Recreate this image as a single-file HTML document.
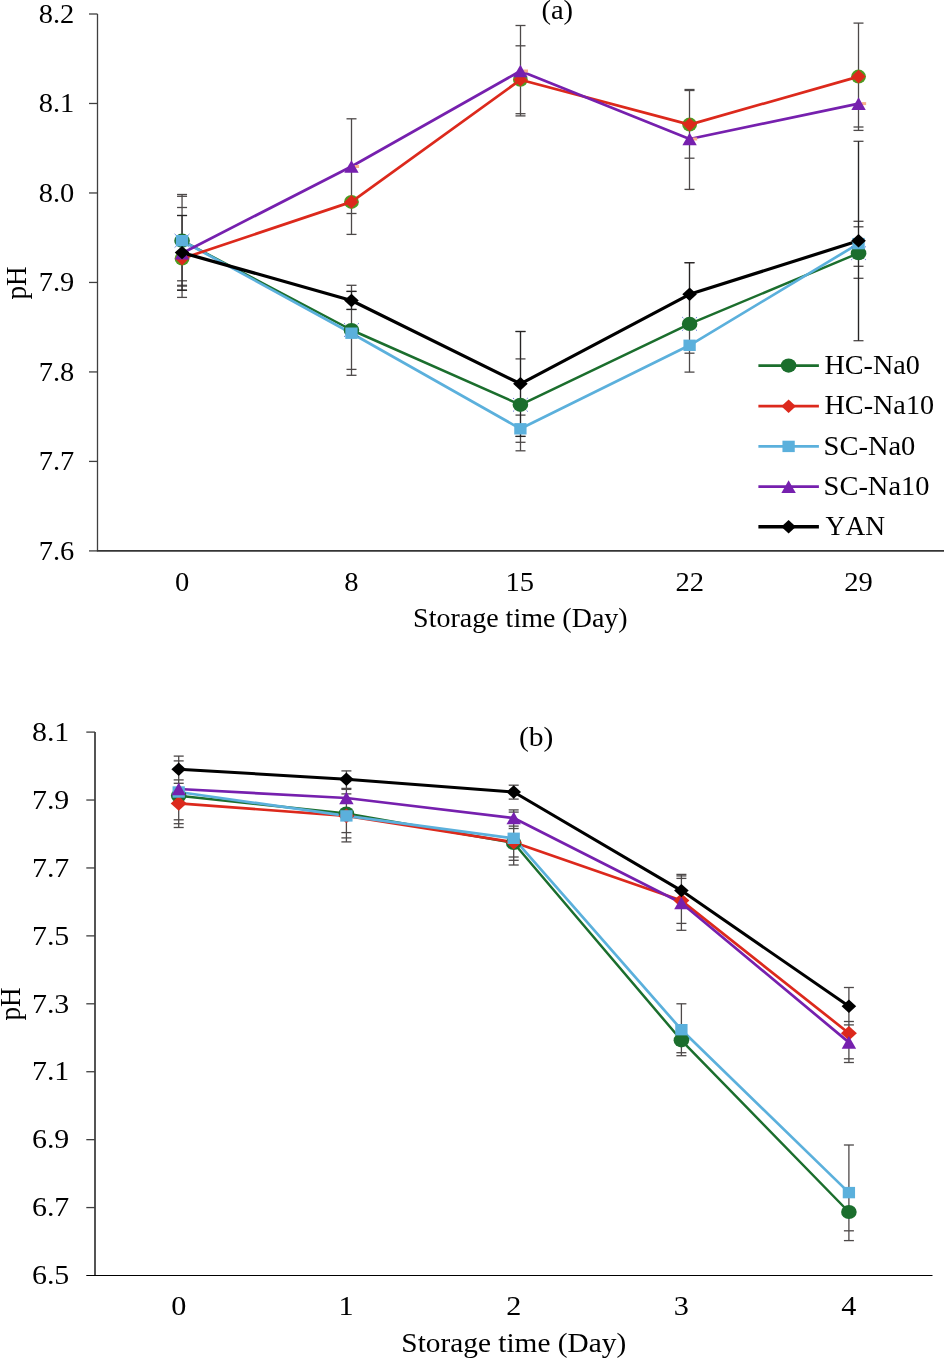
<!DOCTYPE html>
<html><head><meta charset="utf-8"><title>pH chart</title>
<style>
html,body{margin:0;padding:0;background:#fff;}
body{width:944px;height:1358px;overflow:hidden;}
svg{display:block;font-family:"Liberation Serif", serif;will-change:transform;}
text{fill:#000;font-kerning:none;font-feature-settings:"kern" 0;}
</style></head>
<body>
<svg width="944" height="1358" viewBox="0 0 944 1358">
<rect width="944" height="1358" fill="#fff"/>
<line x1="97.5" y1="14.0" x2="97.5" y2="550.9" stroke="#3f3f3f" stroke-width="1.3"/>
<line x1="89" y1="14.0" x2="97.5" y2="14.0" stroke="#3f3f3f" stroke-width="1.3"/>
<line x1="89" y1="103.48333333333333" x2="97.5" y2="103.48333333333333" stroke="#3f3f3f" stroke-width="1.3"/>
<line x1="89" y1="192.96666666666667" x2="97.5" y2="192.96666666666667" stroke="#3f3f3f" stroke-width="1.3"/>
<line x1="89" y1="282.45" x2="97.5" y2="282.45" stroke="#3f3f3f" stroke-width="1.3"/>
<line x1="89" y1="371.93333333333334" x2="97.5" y2="371.93333333333334" stroke="#3f3f3f" stroke-width="1.3"/>
<line x1="89" y1="461.4166666666667" x2="97.5" y2="461.4166666666667" stroke="#3f3f3f" stroke-width="1.3"/>
<line x1="89" y1="550.9" x2="97.5" y2="550.9" stroke="#3f3f3f" stroke-width="1.3"/>
<line x1="96.9" y1="550.9" x2="944" y2="550.9" stroke="#353535" stroke-width="1.6"/>
<text x="38.8" y="22.90" font-size="27.2" textLength="35.53" lengthAdjust="spacingAndGlyphs">8.2</text>
<text x="38.8" y="112.38" font-size="27.2" textLength="35.53" lengthAdjust="spacingAndGlyphs">8.1</text>
<text x="38.8" y="201.87" font-size="27.2" textLength="35.53" lengthAdjust="spacingAndGlyphs">8.0</text>
<text x="38.8" y="291.35" font-size="27.2" textLength="35.53" lengthAdjust="spacingAndGlyphs">7.9</text>
<text x="38.8" y="380.83" font-size="27.2" textLength="35.53" lengthAdjust="spacingAndGlyphs">7.8</text>
<text x="38.8" y="470.32" font-size="27.2" textLength="35.53" lengthAdjust="spacingAndGlyphs">7.7</text>
<text x="38.8" y="559.80" font-size="27.2" textLength="35.53" lengthAdjust="spacingAndGlyphs">7.6</text>
<text x="174.91" y="590.90" font-size="27.2" textLength="14.28" lengthAdjust="spacingAndGlyphs">0</text>
<text x="344.31" y="590.90" font-size="27.2" textLength="14.28" lengthAdjust="spacingAndGlyphs">8</text>
<text x="505.42" y="590.90" font-size="27.2" textLength="28.56" lengthAdjust="spacingAndGlyphs">15</text>
<text x="675.48" y="590.90" font-size="27.2" textLength="28.56" lengthAdjust="spacingAndGlyphs">22</text>
<text x="844.23" y="590.90" font-size="27.2" textLength="28.56" lengthAdjust="spacingAndGlyphs">29</text>
<text x="413.13" y="627.30" font-size="27.2" textLength="214.50" lengthAdjust="spacingAndGlyphs">Storage time (Day)</text>
<text x="0" y="0" font-size="27.2" text-anchor="middle" transform="translate(25.6,283.0) scale(1.045,1) rotate(-90)">pH</text>
<text x="541.44" y="18.50" font-size="27.2" textLength="31.71" lengthAdjust="spacingAndGlyphs">(a)</text>
<line x1="182.05" y1="194.5" x2="182.05" y2="297.4" stroke="#4d4949" stroke-width="1.3"/>
<line x1="177.05" y1="194.5" x2="187.05" y2="194.5" stroke="#4d4949" stroke-width="1.3"/>
<line x1="177.05" y1="196.3" x2="187.05" y2="196.3" stroke="#4d4949" stroke-width="1.3"/>
<line x1="177.05" y1="207.5" x2="187.05" y2="207.5" stroke="#4d4949" stroke-width="1.3"/>
<line x1="177.05" y1="215.5" x2="187.05" y2="215.5" stroke="#4d4949" stroke-width="1.3"/>
<line x1="177.05" y1="280.8" x2="187.05" y2="280.8" stroke="#4d4949" stroke-width="1.3"/>
<line x1="177.05" y1="285.3" x2="187.05" y2="285.3" stroke="#4d4949" stroke-width="1.3"/>
<line x1="177.05" y1="286.1" x2="187.05" y2="286.1" stroke="#4d4949" stroke-width="1.3"/>
<line x1="177.05" y1="290.1" x2="187.05" y2="290.1" stroke="#4d4949" stroke-width="1.3"/>
<line x1="177.05" y1="297.4" x2="187.05" y2="297.4" stroke="#4d4949" stroke-width="1.3"/>
<line x1="351.5" y1="118.8" x2="351.5" y2="234.4" stroke="#4d4949" stroke-width="1.3"/>
<line x1="351.5" y1="285.3" x2="351.5" y2="375.3" stroke="#4d4949" stroke-width="1.3"/>
<line x1="346.5" y1="118.8" x2="356.5" y2="118.8" stroke="#4d4949" stroke-width="1.3"/>
<line x1="346.5" y1="213.5" x2="356.5" y2="213.5" stroke="#4d4949" stroke-width="1.3"/>
<line x1="346.5" y1="234.4" x2="356.5" y2="234.4" stroke="#4d4949" stroke-width="1.3"/>
<line x1="346.5" y1="285.3" x2="356.5" y2="285.3" stroke="#4d4949" stroke-width="1.3"/>
<line x1="346.5" y1="291.3" x2="356.5" y2="291.3" stroke="#4d4949" stroke-width="1.3"/>
<line x1="346.5" y1="309.5" x2="356.5" y2="309.5" stroke="#4d4949" stroke-width="1.3"/>
<line x1="346.5" y1="369.4" x2="356.5" y2="369.4" stroke="#4d4949" stroke-width="1.3"/>
<line x1="346.5" y1="375.3" x2="356.5" y2="375.3" stroke="#4d4949" stroke-width="1.3"/>
<line x1="520.5" y1="25.5" x2="520.5" y2="115.9" stroke="#4d4949" stroke-width="1.3"/>
<line x1="520.5" y1="331.5" x2="520.5" y2="450.8" stroke="#4d4949" stroke-width="1.3"/>
<line x1="515.5" y1="25.5" x2="525.5" y2="25.5" stroke="#4d4949" stroke-width="1.3"/>
<line x1="515.5" y1="45.8" x2="525.5" y2="45.8" stroke="#4d4949" stroke-width="1.3"/>
<line x1="515.5" y1="113.7" x2="525.5" y2="113.7" stroke="#4d4949" stroke-width="1.3"/>
<line x1="515.5" y1="115.9" x2="525.5" y2="115.9" stroke="#4d4949" stroke-width="1.3"/>
<line x1="515.5" y1="331.5" x2="525.5" y2="331.5" stroke="#4d4949" stroke-width="1.3"/>
<line x1="515.5" y1="358.9" x2="525.5" y2="358.9" stroke="#4d4949" stroke-width="1.3"/>
<line x1="515.5" y1="415.1" x2="525.5" y2="415.1" stroke="#4d4949" stroke-width="1.3"/>
<line x1="515.5" y1="436.4" x2="525.5" y2="436.4" stroke="#4d4949" stroke-width="1.3"/>
<line x1="515.5" y1="442.3" x2="525.5" y2="442.3" stroke="#4d4949" stroke-width="1.3"/>
<line x1="515.5" y1="450.8" x2="525.5" y2="450.8" stroke="#4d4949" stroke-width="1.3"/>
<line x1="689.5" y1="90" x2="689.5" y2="189.4" stroke="#4d4949" stroke-width="1.3"/>
<line x1="689.5" y1="262.7" x2="689.5" y2="372.1" stroke="#4d4949" stroke-width="1.3"/>
<line x1="684.5" y1="89.5" x2="694.5" y2="89.5" stroke="#4d4949" stroke-width="1.3"/>
<line x1="684.5" y1="90.5" x2="694.5" y2="90.5" stroke="#4d4949" stroke-width="1.3"/>
<line x1="684.5" y1="158.2" x2="694.5" y2="158.2" stroke="#4d4949" stroke-width="1.3"/>
<line x1="684.5" y1="189.4" x2="694.5" y2="189.4" stroke="#4d4949" stroke-width="1.3"/>
<line x1="684.5" y1="262.7" x2="694.5" y2="262.7" stroke="#4d4949" stroke-width="1.3"/>
<line x1="684.5" y1="353.2" x2="694.5" y2="353.2" stroke="#4d4949" stroke-width="1.3"/>
<line x1="684.5" y1="372.1" x2="694.5" y2="372.1" stroke="#4d4949" stroke-width="1.3"/>
<line x1="858.5" y1="23.1" x2="858.5" y2="130.4" stroke="#4d4949" stroke-width="1.3"/>
<line x1="858.5" y1="141.3" x2="858.5" y2="340.7" stroke="#4d4949" stroke-width="1.3"/>
<line x1="853.5" y1="23.1" x2="863.5" y2="23.1" stroke="#4d4949" stroke-width="1.3"/>
<line x1="853.5" y1="127" x2="863.5" y2="127" stroke="#4d4949" stroke-width="1.3"/>
<line x1="853.5" y1="130.4" x2="863.5" y2="130.4" stroke="#4d4949" stroke-width="1.3"/>
<line x1="853.5" y1="141.3" x2="863.5" y2="141.3" stroke="#4d4949" stroke-width="1.3"/>
<line x1="853.5" y1="221.3" x2="863.5" y2="221.3" stroke="#4d4949" stroke-width="1.3"/>
<line x1="853.5" y1="226.8" x2="863.5" y2="226.8" stroke="#4d4949" stroke-width="1.3"/>
<line x1="853.5" y1="266.3" x2="863.5" y2="266.3" stroke="#4d4949" stroke-width="1.3"/>
<line x1="853.5" y1="278.3" x2="863.5" y2="278.3" stroke="#4d4949" stroke-width="1.3"/>
<line x1="853.5" y1="340.7" x2="863.5" y2="340.7" stroke="#4d4949" stroke-width="1.3"/>
<line x1="182.05" y1="215.5" x2="182.05" y2="290.3" stroke="#262424" stroke-width="1.15"/>
<line x1="177.05" y1="215.5" x2="187.05" y2="215.5" stroke="#262424" stroke-width="1.15"/>
<line x1="177.05" y1="290.3" x2="187.05" y2="290.3" stroke="#262424" stroke-width="1.15"/>
<line x1="351.5" y1="291.5" x2="351.5" y2="309.4" stroke="#262424" stroke-width="1.15"/>
<line x1="346.5" y1="291.5" x2="356.5" y2="291.5" stroke="#262424" stroke-width="1.15"/>
<line x1="346.5" y1="309.4" x2="356.5" y2="309.4" stroke="#262424" stroke-width="1.15"/>
<line x1="520.5" y1="331.5" x2="520.5" y2="436.4" stroke="#262424" stroke-width="1.15"/>
<line x1="515.5" y1="331.5" x2="525.5" y2="331.5" stroke="#262424" stroke-width="1.15"/>
<line x1="515.5" y1="436.4" x2="525.5" y2="436.4" stroke="#262424" stroke-width="1.15"/>
<line x1="689.5" y1="262.7" x2="689.5" y2="325.9" stroke="#262424" stroke-width="1.15"/>
<line x1="684.5" y1="262.7" x2="694.5" y2="262.7" stroke="#262424" stroke-width="1.15"/>
<line x1="858.5" y1="141.3" x2="858.5" y2="340.7" stroke="#262424" stroke-width="1.15"/>
<ellipse cx="182.05" cy="258.6" rx="7.4" ry="7.0" fill="#4f9b22"/>
<ellipse cx="351.45" cy="201.9" rx="7.4" ry="7.0" fill="#4f9b22"/>
<ellipse cx="520.4" cy="79.8" rx="7.4" ry="7.0" fill="#4f9b22"/>
<ellipse cx="689.6" cy="124.6" rx="7.4" ry="7.0" fill="#4f9b22"/>
<ellipse cx="858.55" cy="76.6" rx="7.4" ry="7.0" fill="#4f9b22"/>
<polyline points="182.05,240.7 351.45,330.0 520.4,404.8 689.6,323.9 858.55,253.2" fill="none" stroke="#1b6e2d" stroke-width="2.5" stroke-linejoin="round" stroke-linecap="butt"/>
<polyline points="182.05,240.7 351.45,333.2 520.4,428.8 689.6,345.3 858.55,243.6" fill="none" stroke="#5bb0dc" stroke-width="2.7" stroke-linejoin="round" stroke-linecap="butt"/>
<polyline points="182.05,258.6 351.45,201.9 520.4,79.8 689.6,124.6 858.55,76.6" fill="none" stroke="#dc291c" stroke-width="2.7" stroke-linejoin="round" stroke-linecap="butt"/>
<polyline points="182.05,253.2 351.45,166.5 520.4,71.0 689.6,139.0 858.55,103.6" fill="none" stroke="#7620ae" stroke-width="2.7" stroke-linejoin="round" stroke-linecap="butt"/>
<polyline points="182.05,252.6 351.45,300.5 520.4,383.8 689.6,294.3 858.55,240.8" fill="none" stroke="#000000" stroke-width="3.2" stroke-linejoin="round" stroke-linecap="butt"/>
<ellipse cx="182.05" cy="240.7" rx="7.8" ry="7.1" fill="#1b6e2d"/>
<ellipse cx="351.45" cy="330.0" rx="7.8" ry="7.1" fill="#1b6e2d"/>
<ellipse cx="520.4" cy="404.8" rx="7.8" ry="7.1" fill="#1b6e2d"/>
<ellipse cx="689.6" cy="323.9" rx="7.8" ry="7.1" fill="#1b6e2d"/>
<ellipse cx="858.55" cy="253.2" rx="7.8" ry="7.1" fill="#1b6e2d"/>
<polygon points="182.05,251.8 189.15,258.6 182.05,265.40000000000003 174.95000000000002,258.6" fill="#dc291c"/>
<polygon points="351.45,195.1 358.55,201.9 351.45,208.70000000000002 344.34999999999997,201.9" fill="#dc291c"/>
<polygon points="520.4,73.0 527.5,79.8 520.4,86.6 513.3,79.8" fill="#dc291c"/>
<polygon points="689.6,117.8 696.7,124.6 689.6,131.4 682.5,124.6" fill="#dc291c"/>
<polygon points="858.55,69.8 865.65,76.6 858.55,83.39999999999999 851.4499999999999,76.6" fill="#dc291c"/>
<rect x="175.9" y="235.0" width="12.3" height="11.4" fill="#5bb0dc"/>
<rect x="345.3" y="327.5" width="12.3" height="11.4" fill="#5bb0dc"/>
<rect x="514.25" y="423.1" width="12.3" height="11.4" fill="#5bb0dc"/>
<rect x="683.45" y="339.6" width="12.3" height="11.4" fill="#5bb0dc"/>
<rect x="852.4" y="237.9" width="12.3" height="11.4" fill="#5bb0dc"/>
<rect x="354.45" y="165.00" width="4.6" height="3.0" fill="#f9b08a"/>
<rect x="523.40" y="69.50" width="4.6" height="3.0" fill="#f9b08a"/>
<rect x="692.60" y="137.50" width="4.6" height="3.0" fill="#f9b08a"/>
<rect x="861.55" y="102.10" width="4.6" height="3.0" fill="#f9b08a"/>
<polygon points="182.05,246.89999999999998 189.25,259.5 174.85000000000002,259.5" fill="#7620ae"/>
<polygon points="351.45,160.2 358.65,172.8 344.25,172.8" fill="#7620ae"/>
<polygon points="520.4,64.7 527.6,77.3 513.1999999999999,77.3" fill="#7620ae"/>
<polygon points="689.6,132.7 696.8000000000001,145.3 682.4,145.3" fill="#7620ae"/>
<polygon points="858.55,97.3 865.75,109.89999999999999 851.3499999999999,109.89999999999999" fill="#7620ae"/>
<polygon points="182.05,245.9 189.35000000000002,252.6 182.05,259.3 174.75,252.6" fill="#000000"/>
<polygon points="351.45,293.8 358.75,300.5 351.45,307.2 344.15,300.5" fill="#000000"/>
<polygon points="520.4,377.1 527.6999999999999,383.8 520.4,390.5 513.1,383.8" fill="#000000"/>
<polygon points="689.6,287.6 696.9,294.3 689.6,301.0 682.3000000000001,294.3" fill="#000000"/>
<polygon points="858.55,234.10000000000002 865.8499999999999,240.8 858.55,247.5 851.25,240.8" fill="#000000"/>
<line x1="175.85" y1="235.00" x2="174.65" y2="233.90" stroke="#4a5fd2" stroke-width="1.0" stroke-opacity="0.85"/>
<line x1="175.85" y1="246.40" x2="174.65" y2="247.50" stroke="#4a5fd2" stroke-width="1.0" stroke-opacity="0.85"/>
<line x1="188.25" y1="235.00" x2="189.45" y2="233.90" stroke="#4a5fd2" stroke-width="1.0" stroke-opacity="0.85"/>
<line x1="188.25" y1="246.40" x2="189.45" y2="247.50" stroke="#4a5fd2" stroke-width="1.0" stroke-opacity="0.85"/>
<line x1="345.25" y1="324.30" x2="344.05" y2="323.20" stroke="#4a5fd2" stroke-width="1.0" stroke-opacity="0.85"/>
<line x1="345.25" y1="335.70" x2="344.05" y2="336.80" stroke="#4a5fd2" stroke-width="1.0" stroke-opacity="0.85"/>
<line x1="357.65" y1="324.30" x2="358.85" y2="323.20" stroke="#4a5fd2" stroke-width="1.0" stroke-opacity="0.85"/>
<line x1="357.65" y1="335.70" x2="358.85" y2="336.80" stroke="#4a5fd2" stroke-width="1.0" stroke-opacity="0.85"/>
<line x1="514.20" y1="399.10" x2="513.00" y2="398.00" stroke="#4a5fd2" stroke-width="1.0" stroke-opacity="0.85"/>
<line x1="514.20" y1="410.50" x2="513.00" y2="411.60" stroke="#4a5fd2" stroke-width="1.0" stroke-opacity="0.85"/>
<line x1="526.60" y1="399.10" x2="527.80" y2="398.00" stroke="#4a5fd2" stroke-width="1.0" stroke-opacity="0.85"/>
<line x1="526.60" y1="410.50" x2="527.80" y2="411.60" stroke="#4a5fd2" stroke-width="1.0" stroke-opacity="0.85"/>
<line x1="683.40" y1="318.20" x2="682.20" y2="317.10" stroke="#4a5fd2" stroke-width="1.0" stroke-opacity="0.85"/>
<line x1="683.40" y1="329.60" x2="682.20" y2="330.70" stroke="#4a5fd2" stroke-width="1.0" stroke-opacity="0.85"/>
<line x1="695.80" y1="318.20" x2="697.00" y2="317.10" stroke="#4a5fd2" stroke-width="1.0" stroke-opacity="0.85"/>
<line x1="695.80" y1="329.60" x2="697.00" y2="330.70" stroke="#4a5fd2" stroke-width="1.0" stroke-opacity="0.85"/>
<line x1="852.35" y1="247.50" x2="851.15" y2="246.40" stroke="#4a5fd2" stroke-width="1.0" stroke-opacity="0.85"/>
<line x1="852.35" y1="258.90" x2="851.15" y2="260.00" stroke="#4a5fd2" stroke-width="1.0" stroke-opacity="0.85"/>
<line x1="864.75" y1="247.50" x2="865.95" y2="246.40" stroke="#4a5fd2" stroke-width="1.0" stroke-opacity="0.85"/>
<line x1="864.75" y1="258.90" x2="865.95" y2="260.00" stroke="#4a5fd2" stroke-width="1.0" stroke-opacity="0.85"/>
<line x1="758.4" y1="365.6" x2="818.9" y2="365.6" stroke="#1b6e2d" stroke-width="2.8"/>
<line x1="758.4" y1="406.2" x2="818.9" y2="406.2" stroke="#dc291c" stroke-width="2.8"/>
<line x1="758.4" y1="446.4" x2="818.9" y2="446.4" stroke="#5bb0dc" stroke-width="2.8"/>
<line x1="758.4" y1="486.6" x2="818.9" y2="486.6" stroke="#7620ae" stroke-width="2.8"/>
<line x1="758.4" y1="526.8" x2="818.9" y2="526.8" stroke="#000000" stroke-width="3.4"/>
<text x="824.49" y="374.00" font-size="27.2" textLength="95.38" lengthAdjust="spacingAndGlyphs">HC-Na0</text>
<text x="824.49" y="414.10" font-size="27.2" textLength="109.59" lengthAdjust="spacingAndGlyphs">HC-Na10</text>
<text x="823.59" y="454.70" font-size="27.2" textLength="91.79" lengthAdjust="spacingAndGlyphs">SC-Na0</text>
<text x="823.60" y="494.70" font-size="27.2" textLength="105.89" lengthAdjust="spacingAndGlyphs">SC-Na10</text>
<text x="825.59" y="535.00" font-size="27.2" textLength="59.44" lengthAdjust="spacingAndGlyphs">YAN</text>
<ellipse cx="788.6" cy="365.6" rx="7.8" ry="7.1" fill="#1b6e2d"/>
<polygon points="788.6,399.5 795.9,406.2 788.6,412.9 781.3000000000001,406.2" fill="#dc291c"/>
<rect x="782.45" y="440.7" width="12.3" height="11.4" fill="#5bb0dc"/>
<polygon points="788.6,480.3 795.8000000000001,492.90000000000003 781.4,492.90000000000003" fill="#7620ae"/>
<polygon points="788.6,520.0999999999999 795.9,526.8 788.6,533.5 781.3000000000001,526.8" fill="#000000"/>
<line x1="95.0" y1="732.1" x2="95.0" y2="1275.5" stroke="#2a2a2a" stroke-width="1.6"/>
<line x1="86.3" y1="1275.5" x2="932.5" y2="1275.5" stroke="#000" stroke-width="1.2"/>
<line x1="86.3" y1="732.1" x2="95.0" y2="732.1" stroke="#3f3f3f" stroke-width="1.3"/>
<line x1="86.3" y1="800.025" x2="95.0" y2="800.025" stroke="#3f3f3f" stroke-width="1.3"/>
<line x1="86.3" y1="867.95" x2="95.0" y2="867.95" stroke="#3f3f3f" stroke-width="1.3"/>
<line x1="86.3" y1="935.875" x2="95.0" y2="935.875" stroke="#3f3f3f" stroke-width="1.3"/>
<line x1="86.3" y1="1003.8" x2="95.0" y2="1003.8" stroke="#3f3f3f" stroke-width="1.3"/>
<line x1="86.3" y1="1071.725" x2="95.0" y2="1071.725" stroke="#3f3f3f" stroke-width="1.3"/>
<line x1="86.3" y1="1139.65" x2="95.0" y2="1139.65" stroke="#3f3f3f" stroke-width="1.3"/>
<line x1="86.3" y1="1207.575" x2="95.0" y2="1207.575" stroke="#3f3f3f" stroke-width="1.3"/>
<text x="31.93" y="740.80" font-size="27.2" textLength="37.40" lengthAdjust="spacingAndGlyphs">8.1</text>
<text x="31.93" y="808.73" font-size="27.2" textLength="37.40" lengthAdjust="spacingAndGlyphs">7.9</text>
<text x="31.93" y="876.65" font-size="27.2" textLength="37.40" lengthAdjust="spacingAndGlyphs">7.7</text>
<text x="31.93" y="944.58" font-size="27.2" textLength="37.40" lengthAdjust="spacingAndGlyphs">7.5</text>
<text x="31.93" y="1012.50" font-size="27.2" textLength="37.40" lengthAdjust="spacingAndGlyphs">7.3</text>
<text x="31.93" y="1080.42" font-size="27.2" textLength="37.40" lengthAdjust="spacingAndGlyphs">7.1</text>
<text x="31.93" y="1148.35" font-size="27.2" textLength="37.40" lengthAdjust="spacingAndGlyphs">6.9</text>
<text x="31.93" y="1216.28" font-size="27.2" textLength="37.40" lengthAdjust="spacingAndGlyphs">6.7</text>
<text x="31.93" y="1284.20" font-size="27.2" textLength="37.40" lengthAdjust="spacingAndGlyphs">6.5</text>
<text x="171.15" y="1314.60" font-size="27.2" textLength="15.10" lengthAdjust="spacingAndGlyphs">0</text>
<text x="338.43" y="1314.60" font-size="27.2" textLength="15.10" lengthAdjust="spacingAndGlyphs">1</text>
<text x="506.32" y="1314.60" font-size="27.2" textLength="15.10" lengthAdjust="spacingAndGlyphs">2</text>
<text x="673.72" y="1314.60" font-size="27.2" textLength="15.10" lengthAdjust="spacingAndGlyphs">3</text>
<text x="841.29" y="1314.60" font-size="27.2" textLength="15.10" lengthAdjust="spacingAndGlyphs">4</text>
<text x="401.34" y="1352.20" font-size="27.2" textLength="224.85" lengthAdjust="spacingAndGlyphs">Storage time (Day)</text>
<text x="0" y="0" font-size="27.2" text-anchor="middle" transform="translate(19.5,1004.0) scale(1.10,1) rotate(-90)">pH</text>
<text x="518.90" y="745.80" font-size="27.2" textLength="34.50" lengthAdjust="spacingAndGlyphs">(b)</text>
<line x1="178.7" y1="756.1" x2="178.7" y2="827.5" stroke="#4d4949" stroke-width="1.3"/>
<line x1="173.7" y1="756.1" x2="183.7" y2="756.1" stroke="#4d4949" stroke-width="1.3"/>
<line x1="173.7" y1="760.9" x2="183.7" y2="760.9" stroke="#4d4949" stroke-width="1.3"/>
<line x1="173.7" y1="779.9" x2="183.7" y2="779.9" stroke="#4d4949" stroke-width="1.3"/>
<line x1="173.7" y1="783.3" x2="183.7" y2="783.3" stroke="#4d4949" stroke-width="1.3"/>
<line x1="173.7" y1="819.8" x2="183.7" y2="819.8" stroke="#4d4949" stroke-width="1.3"/>
<line x1="173.7" y1="823.7" x2="183.7" y2="823.7" stroke="#4d4949" stroke-width="1.3"/>
<line x1="173.7" y1="827.5" x2="183.7" y2="827.5" stroke="#4d4949" stroke-width="1.3"/>
<line x1="346.4" y1="770.9" x2="346.4" y2="841.9" stroke="#4d4949" stroke-width="1.3"/>
<line x1="341.4" y1="770.9" x2="351.4" y2="770.9" stroke="#4d4949" stroke-width="1.3"/>
<line x1="341.4" y1="788.4" x2="351.4" y2="788.4" stroke="#4d4949" stroke-width="1.3"/>
<line x1="341.4" y1="789.4" x2="351.4" y2="789.4" stroke="#4d4949" stroke-width="1.3"/>
<line x1="341.4" y1="793.9" x2="351.4" y2="793.9" stroke="#4d4949" stroke-width="1.3"/>
<line x1="341.4" y1="832.6" x2="351.4" y2="832.6" stroke="#4d4949" stroke-width="1.3"/>
<line x1="341.4" y1="837.9" x2="351.4" y2="837.9" stroke="#4d4949" stroke-width="1.3"/>
<line x1="341.4" y1="841.9" x2="351.4" y2="841.9" stroke="#4d4949" stroke-width="1.3"/>
<line x1="513.7" y1="785.2" x2="513.7" y2="799.1" stroke="#4d4949" stroke-width="1.3"/>
<line x1="513.7" y1="809.9" x2="513.7" y2="865" stroke="#4d4949" stroke-width="1.3"/>
<line x1="508.70000000000005" y1="785.2" x2="518.7" y2="785.2" stroke="#4d4949" stroke-width="1.3"/>
<line x1="508.70000000000005" y1="799.1" x2="518.7" y2="799.1" stroke="#4d4949" stroke-width="1.3"/>
<line x1="508.70000000000005" y1="809.9" x2="518.7" y2="809.9" stroke="#4d4949" stroke-width="1.3"/>
<line x1="508.70000000000005" y1="812.1" x2="518.7" y2="812.1" stroke="#4d4949" stroke-width="1.3"/>
<line x1="508.70000000000005" y1="826.1" x2="518.7" y2="826.1" stroke="#4d4949" stroke-width="1.3"/>
<line x1="508.70000000000005" y1="828.5" x2="518.7" y2="828.5" stroke="#4d4949" stroke-width="1.3"/>
<line x1="508.70000000000005" y1="857" x2="518.7" y2="857" stroke="#4d4949" stroke-width="1.3"/>
<line x1="508.70000000000005" y1="860.3" x2="518.7" y2="860.3" stroke="#4d4949" stroke-width="1.3"/>
<line x1="508.70000000000005" y1="865" x2="518.7" y2="865" stroke="#4d4949" stroke-width="1.3"/>
<line x1="681.4" y1="874.4" x2="681.4" y2="930.3" stroke="#4d4949" stroke-width="1.3"/>
<line x1="681.4" y1="1003.8" x2="681.4" y2="1055.7" stroke="#4d4949" stroke-width="1.3"/>
<line x1="676.4" y1="874.4" x2="686.4" y2="874.4" stroke="#4d4949" stroke-width="1.3"/>
<line x1="676.4" y1="875.9" x2="686.4" y2="875.9" stroke="#4d4949" stroke-width="1.3"/>
<line x1="676.4" y1="878.4" x2="686.4" y2="878.4" stroke="#4d4949" stroke-width="1.3"/>
<line x1="676.4" y1="923.4" x2="686.4" y2="923.4" stroke="#4d4949" stroke-width="1.3"/>
<line x1="676.4" y1="930.3" x2="686.4" y2="930.3" stroke="#4d4949" stroke-width="1.3"/>
<line x1="676.4" y1="1003.8" x2="686.4" y2="1003.8" stroke="#4d4949" stroke-width="1.3"/>
<line x1="676.4" y1="1052.7" x2="686.4" y2="1052.7" stroke="#4d4949" stroke-width="1.3"/>
<line x1="676.4" y1="1055.7" x2="686.4" y2="1055.7" stroke="#4d4949" stroke-width="1.3"/>
<line x1="848.9" y1="987.5" x2="848.9" y2="1062.5" stroke="#4d4949" stroke-width="1.3"/>
<line x1="848.9" y1="1145" x2="848.9" y2="1240.6" stroke="#4d4949" stroke-width="1.3"/>
<line x1="843.9" y1="987.5" x2="853.9" y2="987.5" stroke="#4d4949" stroke-width="1.3"/>
<line x1="843.9" y1="1021.5" x2="853.9" y2="1021.5" stroke="#4d4949" stroke-width="1.3"/>
<line x1="843.9" y1="1024.9" x2="853.9" y2="1024.9" stroke="#4d4949" stroke-width="1.3"/>
<line x1="843.9" y1="1058.8" x2="853.9" y2="1058.8" stroke="#4d4949" stroke-width="1.3"/>
<line x1="843.9" y1="1062.5" x2="853.9" y2="1062.5" stroke="#4d4949" stroke-width="1.3"/>
<line x1="843.9" y1="1145" x2="853.9" y2="1145" stroke="#4d4949" stroke-width="1.3"/>
<line x1="843.9" y1="1230.8" x2="853.9" y2="1230.8" stroke="#4d4949" stroke-width="1.3"/>
<line x1="843.9" y1="1240.6" x2="853.9" y2="1240.6" stroke="#4d4949" stroke-width="1.3"/>
<polyline points="178.7,795.7 346.4,813.5 513.7,843.0 681.4,1040.3 848.9,1212.0" fill="none" stroke="#1b6e2d" stroke-width="2.5" stroke-linejoin="round" stroke-linecap="butt"/>
<polyline points="178.7,803.4 346.4,815.9 513.7,842.2 681.4,900.6 848.9,1033.2" fill="none" stroke="#dc291c" stroke-width="2.7" stroke-linejoin="round" stroke-linecap="butt"/>
<polyline points="178.7,792.0 346.4,815.9 513.7,838.3 681.4,1029.7 848.9,1192.6" fill="none" stroke="#5bb0dc" stroke-width="2.7" stroke-linejoin="round" stroke-linecap="butt"/>
<polyline points="178.7,789.0 346.4,798.0 513.7,818.0 681.4,903.0 848.9,1042.4" fill="none" stroke="#7620ae" stroke-width="2.7" stroke-linejoin="round" stroke-linecap="butt"/>
<polyline points="178.7,769.3 346.4,779.2 513.7,792.0 681.4,890.6 848.9,1006.2" fill="none" stroke="#000000" stroke-width="3.0" stroke-linejoin="round" stroke-linecap="butt"/>
<ellipse cx="178.7" cy="795.7" rx="7.8" ry="7.1" fill="#1b6e2d"/>
<ellipse cx="346.4" cy="813.5" rx="7.8" ry="7.1" fill="#1b6e2d"/>
<ellipse cx="513.7" cy="843.0" rx="7.8" ry="7.1" fill="#1b6e2d"/>
<ellipse cx="681.4" cy="1040.3" rx="7.8" ry="7.1" fill="#1b6e2d"/>
<ellipse cx="848.9" cy="1212.0" rx="7.8" ry="7.1" fill="#1b6e2d"/>
<polygon points="178.7,796.1 186.7,803.4 178.7,810.6999999999999 170.7,803.4" fill="#dc291c"/>
<polygon points="346.4,808.6 354.4,815.9 346.4,823.1999999999999 338.4,815.9" fill="#dc291c"/>
<polygon points="513.7,834.9000000000001 521.7,842.2 513.7,849.5 505.70000000000005,842.2" fill="#dc291c"/>
<polygon points="681.4,893.3000000000001 689.4,900.6 681.4,907.9 673.4,900.6" fill="#dc291c"/>
<polygon points="848.9,1025.9 856.9,1033.2 848.9,1040.5 840.9,1033.2" fill="#dc291c"/>
<rect x="172.54999999999998" y="786.3" width="12.3" height="11.4" fill="#5bb0dc"/>
<rect x="340.25" y="810.1999999999999" width="12.3" height="11.4" fill="#5bb0dc"/>
<rect x="507.55000000000007" y="832.5999999999999" width="12.3" height="11.4" fill="#5bb0dc"/>
<rect x="675.25" y="1024.0" width="12.3" height="11.4" fill="#5bb0dc"/>
<rect x="842.75" y="1186.8999999999999" width="12.3" height="11.4" fill="#5bb0dc"/>
<polygon points="178.7,782.7 185.89999999999998,795.3 171.5,795.3" fill="#7620ae"/>
<polygon points="346.4,791.7 353.59999999999997,804.3 339.2,804.3" fill="#7620ae"/>
<polygon points="513.7,811.7 520.9000000000001,824.3 506.50000000000006,824.3" fill="#7620ae"/>
<polygon points="681.4,896.7 688.6,909.3 674.1999999999999,909.3" fill="#7620ae"/>
<polygon points="848.9,1036.1000000000001 856.1,1048.7 841.6999999999999,1048.7" fill="#7620ae"/>
<polygon points="178.7,762.5999999999999 186.0,769.3 178.7,776.0 171.39999999999998,769.3" fill="#000000"/>
<polygon points="346.4,772.5 353.7,779.2 346.4,785.9000000000001 339.09999999999997,779.2" fill="#000000"/>
<polygon points="513.7,785.3 521.0,792.0 513.7,798.7 506.40000000000003,792.0" fill="#000000"/>
<polygon points="681.4,883.9 688.6999999999999,890.6 681.4,897.3000000000001 674.1,890.6" fill="#000000"/>
<polygon points="848.9,999.5 856.1999999999999,1006.2 848.9,1012.9000000000001 841.6,1006.2" fill="#000000"/>
</svg>
</body></html>
